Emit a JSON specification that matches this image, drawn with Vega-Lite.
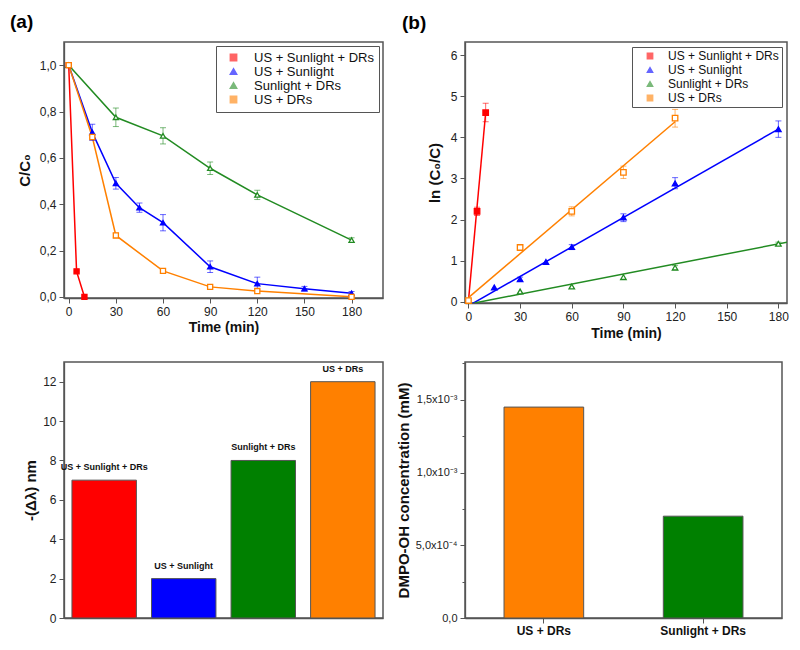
{
  "$schema": "https://vega.github.io/schema/vega-lite/v6.json",
  "background": "white",
  "padding": {"left": 9, "top": 12, "right": 5, "bottom": 5},
  "columns": 2,
  "bounds": "flush",
  "spacing": {"row": 59, "column": 82},
  "resolve": {"scale": {"color": "independent", "fill": "independent", "shape": "independent"}, "legend": {"color": "independent", "fill": "independent", "shape": "independent"}},
  "config": {
    "font": "Liberation Sans",
    "view": {"stroke": "#555", "strokeWidth": 1.5},
    "axis": {"grid": false, "domainColor": "#555", "domainWidth": 1.3, "tickColor": "#555", "tickWidth": 1,
      "labelFont": "Liberation Sans", "labelFontSize": 12, "labelColor": "#222", "labelPadding": 3,
      "titleFont": "Liberation Sans", "titleFontSize": 14, "titleFontWeight": "bold", "titleColor": "#111",
      "labelOverlap": false, "labelFlush": false}
  },
  "datasets": {
    "aPts": [
      {"s": "US + Sunlight + DRs", "t": 0, "v": 1.0},
      {"s": "US + Sunlight + DRs", "t": 5, "v": 0.11},
      {"s": "US + Sunlight + DRs", "t": 10, "v": 0.0},
      {"s": "US + Sunlight", "t": 0, "v": 1.0},
      {"s": "US + Sunlight", "t": 15, "v": 0.71},
      {"s": "US + Sunlight", "t": 30, "v": 0.49},
      {"s": "US + Sunlight", "t": 45, "v": 0.385},
      {"s": "US + Sunlight", "t": 60, "v": 0.32},
      {"s": "US + Sunlight", "t": 90, "v": 0.13},
      {"s": "US + Sunlight", "t": 120, "v": 0.057},
      {"s": "US + Sunlight", "t": 150, "v": 0.035},
      {"s": "US + Sunlight", "t": 180, "v": 0.015},
      {"s": "Sunlight + DRs", "t": 0, "v": 1.0},
      {"s": "Sunlight + DRs", "t": 30, "v": 0.775},
      {"s": "Sunlight + DRs", "t": 60, "v": 0.695},
      {"s": "Sunlight + DRs", "t": 90, "v": 0.555},
      {"s": "Sunlight + DRs", "t": 120, "v": 0.44},
      {"s": "Sunlight + DRs", "t": 180, "v": 0.245},
      {"s": "US + DRs", "t": 0, "v": 1.0},
      {"s": "US + DRs", "t": 15, "v": 0.69},
      {"s": "US + DRs", "t": 30, "v": 0.265},
      {"s": "US + DRs", "t": 60, "v": 0.112},
      {"s": "US + DRs", "t": 90, "v": 0.043},
      {"s": "US + DRs", "t": 120, "v": 0.025},
      {"s": "US + DRs", "t": 180, "v": 0.0}
    ],
    "aErr": [
      {"s": "US + Sunlight", "t": 15, "lo": 0.675, "hi": 0.745},
      {"s": "US + Sunlight", "t": 30, "lo": 0.465, "hi": 0.515},
      {"s": "US + Sunlight", "t": 45, "lo": 0.365, "hi": 0.405},
      {"s": "US + Sunlight", "t": 60, "lo": 0.285, "hi": 0.355},
      {"s": "US + Sunlight", "t": 90, "lo": 0.105, "hi": 0.155},
      {"s": "US + Sunlight", "t": 120, "lo": 0.03, "hi": 0.085},
      {"s": "US + Sunlight", "t": 150, "lo": 0.025, "hi": 0.045},
      {"s": "US + Sunlight", "t": 180, "lo": 0.007, "hi": 0.023},
      {"s": "Sunlight + DRs", "t": 30, "lo": 0.735, "hi": 0.815},
      {"s": "Sunlight + DRs", "t": 60, "lo": 0.66, "hi": 0.73},
      {"s": "Sunlight + DRs", "t": 90, "lo": 0.528, "hi": 0.582},
      {"s": "Sunlight + DRs", "t": 120, "lo": 0.42, "hi": 0.46},
      {"s": "Sunlight + DRs", "t": 180, "lo": 0.235, "hi": 0.255},
      {"s": "US + DRs", "t": 30, "lo": 0.255, "hi": 0.275},
      {"s": "US + DRs", "t": 60, "lo": 0.104, "hi": 0.12}
    ],
    "bPts": [
      {"s": "US + Sunlight + DRs", "t": 5, "v": 2.2},
      {"s": "US + Sunlight + DRs", "t": 10, "v": 4.6},
      {"s": "US + Sunlight", "t": 15, "v": 0.35},
      {"s": "US + Sunlight", "t": 30, "v": 0.55},
      {"s": "US + Sunlight", "t": 45, "v": 0.97},
      {"s": "US + Sunlight", "t": 60, "v": 1.33},
      {"s": "US + Sunlight", "t": 90, "v": 2.05},
      {"s": "US + Sunlight", "t": 120, "v": 2.88},
      {"s": "US + Sunlight", "t": 180, "v": 4.2},
      {"s": "Sunlight + DRs", "t": 30, "v": 0.25},
      {"s": "Sunlight + DRs", "t": 60, "v": 0.37},
      {"s": "Sunlight + DRs", "t": 90, "v": 0.6},
      {"s": "Sunlight + DRs", "t": 120, "v": 0.83},
      {"s": "Sunlight + DRs", "t": 180, "v": 1.41},
      {"s": "US + DRs", "t": 0, "v": 0.03},
      {"s": "US + DRs", "t": 30, "v": 1.32},
      {"s": "US + DRs", "t": 60, "v": 2.2},
      {"s": "US + DRs", "t": 90, "v": 3.15},
      {"s": "US + DRs", "t": 120, "v": 4.47}
    ],
    "bErr": [
      {"s": "US + Sunlight + DRs", "t": 5, "lo": 2.1, "hi": 2.3},
      {"s": "US + Sunlight + DRs", "t": 10, "lo": 4.38, "hi": 4.83},
      {"s": "US + Sunlight", "t": 30, "lo": 0.5, "hi": 0.6},
      {"s": "US + Sunlight", "t": 60, "lo": 1.27, "hi": 1.39},
      {"s": "US + Sunlight", "t": 90, "lo": 1.95, "hi": 2.14},
      {"s": "US + Sunlight", "t": 120, "lo": 2.75, "hi": 3.02},
      {"s": "US + Sunlight", "t": 180, "lo": 4.0, "hi": 4.4},
      {"s": "Sunlight + DRs", "t": 120, "lo": 0.78, "hi": 0.88},
      {"s": "Sunlight + DRs", "t": 180, "lo": 1.37, "hi": 1.45},
      {"s": "US + DRs", "t": 30, "lo": 1.28, "hi": 1.36},
      {"s": "US + DRs", "t": 60, "lo": 2.09, "hi": 2.31},
      {"s": "US + DRs", "t": 90, "lo": 3.0, "hi": 3.3},
      {"s": "US + DRs", "t": 120, "lo": 4.25, "hi": 4.68}
    ],
    "bFit": [
      {"s": "US + Sunlight + DRs", "t": 0, "v": 0.02},
      {"s": "US + Sunlight + DRs", "t": 10, "v": 4.6},
      {"s": "US + Sunlight", "t": 2.5, "v": -0.04},
      {"s": "US + Sunlight", "t": 180, "v": 4.2},
      {"s": "Sunlight + DRs", "t": 3.5, "v": -0.03},
      {"s": "Sunlight + DRs", "t": 185, "v": 1.45},
      {"s": "US + DRs", "t": 0, "v": 0.1},
      {"s": "US + DRs", "t": 120, "v": 4.38}
    ],
    "cBars": [
      {"cond": "US + Sunlight + DRs", "val": 7},
      {"cond": "US + Sunlight", "val": 2},
      {"cond": "Sunlight + DRs", "val": 8},
      {"cond": "US + DRs", "val": 12}
    ],
    "dBars": [
      {"cond": "US + DRs", "val": 0.00145},
      {"cond": "Sunlight + DRs", "val": 0.0007}
    ]
  },
  "concat": [
    {
      "width": 319, "height": 256,
      "title": {"text": "(a)", "anchor": "start", "frame": "group", "dx": -54, "offset": -5, "baseline": "alphabetic", "fontSize": 19, "fontWeight": "bold", "font": "Liberation Sans", "color": "#000"},
      "layer": [
        {
          "data": {"name": "aPts"},
          "mark": {"type": "line", "strokeWidth": 1.5},
          "encoding": {
            "x": {"field": "t", "type": "quantitative", "title": "Time (min)", "scale": {"domain": [-3, 200], "nice": false, "zero": false},
              "axis": {"values": [0, 15, 30, 45, 60, 75, 90, 105, 120, 135, 150, 165, 180, 195],
                "labelExpr": "datum.value % 30 == 0 ? datum.value : ''",
                "tickSize": {"condition": {"test": "datum.value % 30 != 0", "value": 3}, "value": 5},
                "titlePadding": 3}},
            "y": {"field": "v", "type": "quantitative", "title": "C/C₀", "scale": {"domain": [-0.005, 1.1], "nice": false, "zero": false},
              "axis": {"titleFontSize": 15, "values": [0, 0.1, 0.2, 0.3, 0.4, 0.5, 0.6, 0.7, 0.8, 0.9, 1.0],
                "labelExpr": "round(datum.value*10) % 2 == 0 ? replace(format(datum.value, '.1f'), '.', ',') : ''",
                "tickSize": {"condition": {"test": "round(datum.value*10) % 2 == 1", "value": 3}, "value": 5},
                "titlePadding": 7}},
            "color": {"field": "s", "type": "nominal",
              "scale": {"domain": ["US + Sunlight + DRs", "US + Sunlight", "Sunlight + DRs", "US + DRs"], "range": ["#ff0000", "#0000ff", "#228b22", "#ff8000"]},
              "legend": {"title": null, "orient": "top-right", "offset": 4, "strokeColor": "#555", "fillColor": "white", "padding": 5,
                "symbolOffset": 6, "labelOffset": 14, "labelFontSize": 13, "labelFont": "Liberation Sans", "labelColor": "#111", "rowPadding": 0,
                "symbolSize": 40, "symbolStrokeWidth": 1.5, "labelLimit": 300}}
          }
        },
        {
          "data": {"name": "aErr"},
          "mark": {"type": "errorbar", "ticks": {"size": 6}, "thickness": 1, "opacity": 0.6},
          "encoding": {
            "x": {"field": "t", "type": "quantitative", "title": "Time (min)", "scale": {"domain": [-3, 200], "nice": false, "zero": false}},
            "y": {"field": "lo", "type": "quantitative", "title": "C/C₀", "scale": {"domain": [-0.005, 1.1], "nice": false, "zero": false}},
            "y2": {"field": "hi"},
            "color": {"field": "s", "type": "nominal",
              "scale": {"domain": ["US + Sunlight + DRs", "US + Sunlight", "Sunlight + DRs", "US + DRs"], "range": ["#ff0000", "#0000ff", "#228b22", "#ff8000"]}}
          }
        },
        {
          "data": {"name": "aPts"},
          "mark": {"type": "point", "filled": false, "size": 26, "strokeWidth": 1.3, "opacity": 1},
          "encoding": {
            "x": {"field": "t", "type": "quantitative", "title": "Time (min)", "scale": {"domain": [-3, 200], "nice": false, "zero": false}},
            "y": {"field": "v", "type": "quantitative", "title": "C/C₀", "scale": {"domain": [-0.005, 1.1], "nice": false, "zero": false}},
            "color": {"field": "s", "type": "nominal",
              "scale": {"domain": ["US + Sunlight + DRs", "US + Sunlight", "Sunlight + DRs", "US + DRs"], "range": ["#ff0000", "#0000ff", "#228b22", "#ff8000"]},
              "legend": {"title": null, "orient": "top-right", "offset": 4, "strokeColor": "#555", "fillColor": "white", "padding": 5,
                "symbolOffset": 6, "labelOffset": 14, "labelFontSize": 13, "labelFont": "Liberation Sans", "labelColor": "#111", "rowPadding": 0,
                "symbolSize": 40, "symbolStrokeWidth": 1.5, "labelLimit": 300}},
            "fill": {"field": "s", "type": "nominal",
              "scale": {"domain": ["US + Sunlight + DRs", "US + Sunlight", "Sunlight + DRs", "US + DRs"], "range": ["#ff0000", "#0000ff", "#ffffff", "#ffffff"]},
              "legend": {"title": null, "orient": "top-right", "offset": 4, "strokeColor": "#555", "fillColor": "white", "padding": 5,
                "symbolOffset": 6, "labelOffset": 14, "labelFontSize": 13, "labelFont": "Liberation Sans", "labelColor": "#111", "rowPadding": 0,
                "symbolSize": 40, "symbolStrokeWidth": 1.5, "labelLimit": 300}},
            "shape": {"field": "s", "type": "nominal",
              "scale": {"domain": ["US + Sunlight + DRs", "US + Sunlight", "Sunlight + DRs", "US + DRs"], "range": ["square", "triangle-up", "triangle-up", "square"]},
              "legend": {"title": null, "orient": "top-right", "offset": 4, "strokeColor": "#555", "fillColor": "white", "padding": 5,
                "symbolOffset": 6, "labelOffset": 14, "labelFontSize": 13, "labelFont": "Liberation Sans", "labelColor": "#111", "rowPadding": 0,
                "symbolSize": 40, "symbolStrokeWidth": 1.5, "labelLimit": 300}}
          }
        }
      ]
    },
    {
      "width": 322, "height": 261,
      "title": {"text": "(b)", "anchor": "start", "frame": "group", "dx": -63, "offset": -6, "baseline": "alphabetic", "fontSize": 19, "fontWeight": "bold", "font": "Liberation Sans", "color": "#000"},
      "layer": [
        {
          "data": {"name": "bFit"},
          "mark": {"type": "line", "strokeWidth": 1.5, "clip": true},
          "encoding": {
            "x": {"field": "t", "type": "quantitative", "title": "Time (min)", "scale": {"domain": [-2, 185], "nice": false, "zero": false},
              "axis": {"values": [0, 15, 30, 45, 60, 75, 90, 105, 120, 135, 150, 165, 180],
                "labelExpr": "datum.value % 30 == 0 ? datum.value : ''",
                "tickSize": {"condition": {"test": "datum.value % 30 != 0", "value": 3}, "value": 5},
                "titlePadding": 4}},
            "y": {"field": "v", "type": "quantitative", "title": "ln (C₀/C)", "scale": {"domain": [-0.03, 6.32], "nice": false, "zero": false},
              "axis": {"titleFontSize": 15, "values": [0, 0.5, 1, 1.5, 2, 2.5, 3, 3.5, 4, 4.5, 5, 5.5, 6],
                "labelExpr": "datum.value % 1 == 0 ? datum.value : ''",
                "tickSize": {"condition": {"test": "datum.value % 1 != 0", "value": 3}, "value": 5},
                "titlePadding": 8}},
            "color": {"field": "s", "type": "nominal",
              "scale": {"domain": ["US + Sunlight + DRs", "US + Sunlight", "Sunlight + DRs", "US + DRs"], "range": ["#ff0000", "#0000ff", "#228b22", "#ff8000"]},
              "legend": {"title": null, "orient": "top-right", "offset": 5, "strokeColor": "#555", "fillColor": "white", "padding": 3,
                "symbolOffset": 9, "labelOffset": 12, "labelFontSize": 12, "labelFont": "Liberation Sans", "labelColor": "#111", "rowPadding": 2,
                "symbolSize": 30, "symbolStrokeWidth": 1.3, "labelLimit": 300}}
          }
        },
        {
          "data": {"name": "bErr"},
          "mark": {"type": "errorbar", "ticks": {"size": 6}, "thickness": 1, "opacity": 0.6},
          "encoding": {
            "x": {"field": "t", "type": "quantitative", "title": "Time (min)", "scale": {"domain": [-2, 185], "nice": false, "zero": false}},
            "y": {"field": "lo", "type": "quantitative", "title": "ln (C₀/C)", "scale": {"domain": [-0.03, 6.32], "nice": false, "zero": false}},
            "y2": {"field": "hi"},
            "color": {"field": "s", "type": "nominal",
              "scale": {"domain": ["US + Sunlight + DRs", "US + Sunlight", "Sunlight + DRs", "US + DRs"], "range": ["#ff0000", "#0000ff", "#228b22", "#ff8000"]}}
          }
        },
        {
          "data": {"name": "bPts"},
          "mark": {"type": "point", "filled": false, "size": 30, "strokeWidth": 1.3, "opacity": 1},
          "encoding": {
            "x": {"field": "t", "type": "quantitative", "title": "Time (min)", "scale": {"domain": [-2, 185], "nice": false, "zero": false}},
            "y": {"field": "v", "type": "quantitative", "title": "ln (C₀/C)", "scale": {"domain": [-0.03, 6.32], "nice": false, "zero": false}},
            "color": {"field": "s", "type": "nominal",
              "scale": {"domain": ["US + Sunlight + DRs", "US + Sunlight", "Sunlight + DRs", "US + DRs"], "range": ["#ff0000", "#0000ff", "#228b22", "#ff8000"]},
              "legend": {"title": null, "orient": "top-right", "offset": 5, "strokeColor": "#555", "fillColor": "white", "padding": 3,
                "symbolOffset": 9, "labelOffset": 12, "labelFontSize": 12, "labelFont": "Liberation Sans", "labelColor": "#111", "rowPadding": 2,
                "symbolSize": 30, "symbolStrokeWidth": 1.3, "labelLimit": 300}},
            "fill": {"field": "s", "type": "nominal",
              "scale": {"domain": ["US + Sunlight + DRs", "US + Sunlight", "Sunlight + DRs", "US + DRs"], "range": ["#ff0000", "#0000ff", "#ffffff", "#ffffff"]},
              "legend": {"title": null, "orient": "top-right", "offset": 5, "strokeColor": "#555", "fillColor": "white", "padding": 3,
                "symbolOffset": 9, "labelOffset": 12, "labelFontSize": 12, "labelFont": "Liberation Sans", "labelColor": "#111", "rowPadding": 2,
                "symbolSize": 30, "symbolStrokeWidth": 1.3, "labelLimit": 300}},
            "shape": {"field": "s", "type": "nominal",
              "scale": {"domain": ["US + Sunlight + DRs", "US + Sunlight", "Sunlight + DRs", "US + DRs"], "range": ["square", "triangle-up", "triangle-up", "square"]},
              "legend": {"title": null, "orient": "top-right", "offset": 5, "strokeColor": "#555", "fillColor": "white", "padding": 3,
                "symbolOffset": 9, "labelOffset": 12, "labelFontSize": 12, "labelFont": "Liberation Sans", "labelColor": "#111", "rowPadding": 2,
                "symbolSize": 30, "symbolStrokeWidth": 1.3, "labelLimit": 300}}
          }
        }
      ]
    },
    {
      "width": 319, "height": 256,
      "data": {"name": "cBars"},
      "layer": [
        {
          "mark": {"type": "bar", "stroke": "#555", "strokeWidth": 1},
          "encoding": {
            "x": {"field": "cond", "type": "nominal", "sort": null, "scale": {"paddingInner": 0.19, "paddingOuter": 0.1},
              "axis": {"labels": false, "ticks": false, "title": null}},
            "y": {"field": "val", "type": "quantitative", "title": "-(Δλ) nm", "scale": {"domain": [0, 13], "nice": false},
              "axis": {"titleFontSize": 15, "values": [0, 1, 2, 3, 4, 5, 6, 7, 8, 9, 10, 11, 12],
                "labelExpr": "datum.value % 2 == 0 ? datum.value : ''",
                "tickSize": {"condition": {"test": "datum.value % 2 != 0", "value": 3}, "value": 5},
                "titlePadding": 4}},
            "color": {"field": "cond", "type": "nominal", "legend": null,
              "scale": {"domain": ["US + Sunlight + DRs", "US + Sunlight", "Sunlight + DRs", "US + DRs"], "range": ["#ff0000", "#0000ff", "#008000", "#ff8000"]}}
          }
        },
        {
          "mark": {"type": "text", "dy": -13, "fontWeight": "bold", "fontSize": 9, "font": "Liberation Sans", "color": "#111"},
          "encoding": {
            "x": {"field": "cond", "type": "nominal", "sort": null},
            "y": {"field": "val", "type": "quantitative", "title": "-(Δλ) nm"},
            "text": {"field": "cond"}
          }
        }
      ]
    },
    {
      "width": 317, "height": 256,
      "data": {"name": "dBars"},
      "mark": {"type": "bar", "stroke": "#555", "strokeWidth": 1},
      "encoding": {
        "x": {"field": "cond", "type": "nominal", "sort": null, "scale": {"paddingInner": 0.5, "paddingOuter": 0.245},
          "axis": {"title": null, "labelAngle": 0, "labelFontWeight": "bold", "labelFontSize": 12, "labelColor": "#111", "tickSize": 5, "labelPadding": 2}},
        "y": {"field": "val", "type": "quantitative", "title": "DMPO-OH concentration (mM)", "scale": {"domain": [0, 0.00176], "nice": false},
          "axis": {"titleFontSize": 15, "labelFontSize": 11,
            "values": [0, 0.00025, 0.0005, 0.00075, 0.001, 0.00125, 0.0015, 0.00175],
            "labelExpr": "datum.value == 0 ? '0,0' : round(datum.value*4000) % 2 == 1 ? '' : datum.value < 0.0009 ? '5,0x10⁻⁴' : replace(format(datum.value*1000, '.1f'), '.', ',') + 'x10⁻³'",
            "tickSize": {"condition": {"test": "round(datum.value*4000) % 2 == 1", "value": 3}, "value": 5},
            "titlePadding": 4}},
        "color": {"field": "cond", "type": "nominal", "legend": null,
          "scale": {"domain": ["US + DRs", "Sunlight + DRs"], "range": ["#ff8000", "#008000"]}}
      }
    }
  ]
}
